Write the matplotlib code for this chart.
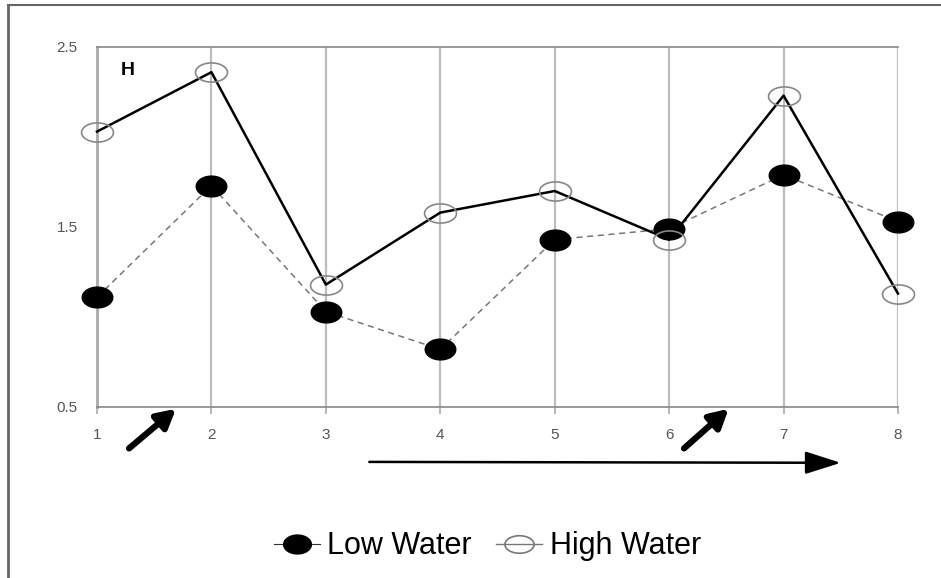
import matplotlib
matplotlib.use("Agg")
import matplotlib.pyplot as plt
from matplotlib.path import Path
from matplotlib.lines import Line2D
import numpy as np

plt.rcParams['font.family'] = ['Liberation Sans', 'DejaVu Sans']

# data
sites = [1, 2, 3, 4, 5, 6, 7, 8]
low_water = [1.11, 1.73, 1.03, 0.82, 1.43, 1.49, 1.79, 1.53]
high_water = [2.03, 2.36, 1.18, 1.58, 1.70, 1.43, 2.23, 1.13]
yticks = [0.5, 1.5, 2.5]
panel = "H"
labels = ["Low Water", "High Water"]

# ellipse markers (wider than tall)
t = np.linspace(0, 2 * np.pi, 60)
ellipse = Path(np.column_stack([np.cos(t), 0.68 * np.sin(t)]), closed=True)
ellipse2 = Path(np.column_stack([np.cos(t), 0.6 * np.sin(t)]), closed=True)

fig = plt.figure(figsize=(9.41, 5.78), dpi=100)
ax = fig.add_axes([97 / 941, 171 / 578, 801 / 941, 360 / 578])

# outer frame
fig.add_artist(Line2D([8 / 941, 8 / 941], [0, 1 - 5 / 578], transform=fig.transFigure,
                      color="#666666", lw=2))
fig.add_artist(Line2D([8 / 941, 1], [1 - 5 / 578, 1 - 5 / 578], transform=fig.transFigure,
                      color="#666666", lw=1.5))

for x in sites:
    ax.axvline(x, color="#bdbdbd", lw=1.6, zorder=0)

ax.plot(sites, low_water, color="#777777", lw=1.1, ls=(0, (4, 3)),
        marker=ellipse, ms=22, mfc="black", mec="black", zorder=3, clip_on=False)
ax.plot(sites, high_water, color="black", lw=1.8,
        marker=ellipse2, ms=23, mfc="none", mec="#888888", mew=1.2, zorder=4, clip_on=False)

ax.set_xlim(1, 8)
ax.set_ylim(0.5, 2.5)
ax.set_xticks(sites)
ax.set_yticks(yticks)
ax.set_yticklabels([str(v) for v in yticks])

for s in ["top", "bottom"]:
    ax.spines[s].set_color("#888888")
    ax.spines[s].set_linewidth(1.2)
ax.spines["left"].set_color("#aaaaaa")
ax.spines["left"].set_linewidth(2)
ax.spines["right"].set_visible(False)
ax.tick_params(axis="both", colors="#aaaaaa", labelcolor="#555555", labelsize=11,
               length=5, width=1.2)
ax.tick_params(axis="x", pad=10)
ax.tick_params(axis="y", length=0, pad=14)

ax.text(0.03, 0.935, panel, transform=ax.transAxes, fontsize=14, fontweight="bold",
        va="center", ha="left")

# arrows under the axis
ax.annotate("", xy=(1.69, 0.49), xytext=(1.28, 0.27), xycoords="data",
            arrowprops=dict(arrowstyle="-|>,head_length=1.1,head_width=0.6", lw=4.5,
                            color="black", shrinkA=0, shrinkB=0),
            annotation_clip=False)
ax.annotate("", xy=(6.52, 0.49), xytext=(6.13, 0.27), xycoords="data",
            arrowprops=dict(arrowstyle="-|>,head_length=1.1,head_width=0.6", lw=4.5,
                            color="black", shrinkA=0, shrinkB=0),
            annotation_clip=False)
ax.annotate("", xy=(7.5, 0.19), xytext=(3.38, 0.195), xycoords="data",
            arrowprops=dict(arrowstyle="-|>,head_length=2.2,head_width=0.7", lw=1.8,
                            color="black", shrinkA=0, shrinkB=0),
            annotation_clip=False)

handles = [
    Line2D([], [], color="#333333", lw=0.8, marker=ellipse, ms=20, mfc="black", mec="black"),
    Line2D([], [], color="#777777", lw=1.0, marker=ellipse2, ms=21, mfc="none",
           mec="#777777", mew=1.2),
]
fig.legend(handles, labels, loc="center", bbox_to_anchor=(0.518, 0.055), ncol=2,
           frameon=False, fontsize=22, handlelength=1.5, handletextpad=0.25,
           columnspacing=0.8)

fig.savefig("out.png", dpi=100)
